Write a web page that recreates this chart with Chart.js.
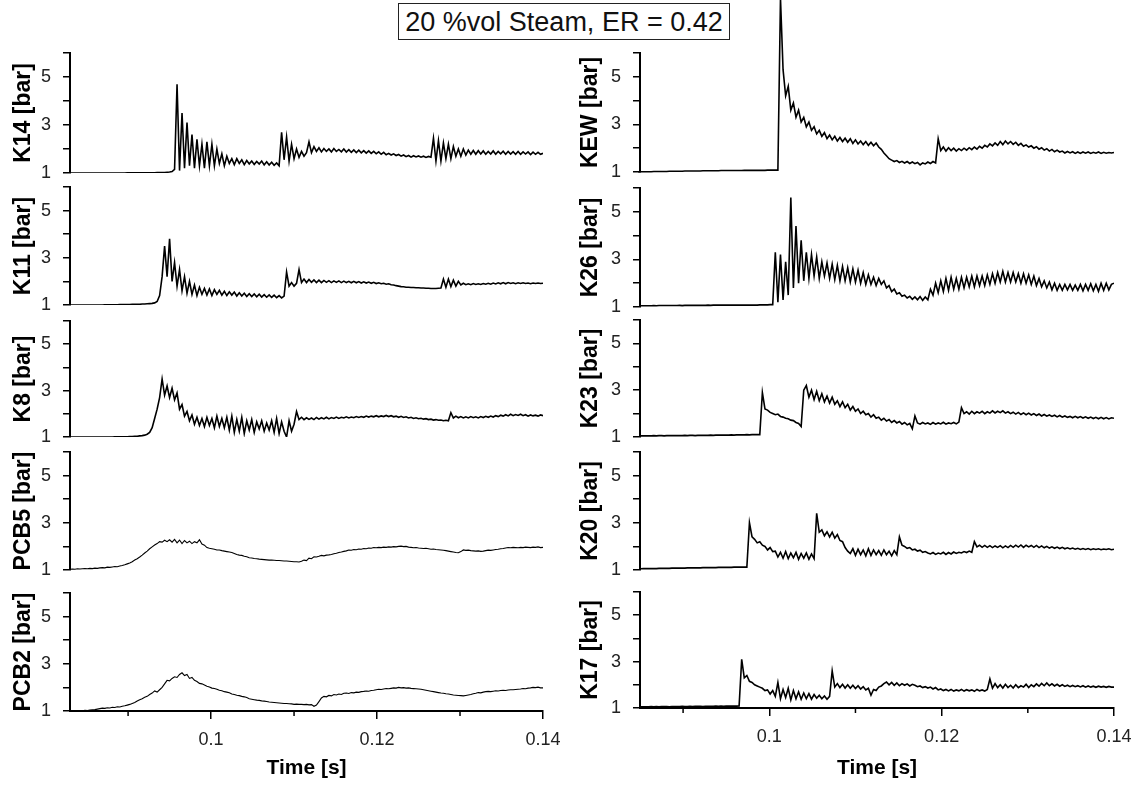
<!DOCTYPE html>
<html>
<head>
  <meta charset="utf-8">
  <title>Pressure traces, 20 %vol Steam</title>
  <script src="https://cdn.jsdelivr.net/npm/chart.js@4/dist/chart.umd.min.js"></script>
  <style>
    body { margin: 0; background: #fff; width: 1142px; height: 787px; position: relative; overflow: hidden; }
    canvas { position: absolute; }
    #title {
      position: absolute; left: 398px; top: 3px; width: 330px; height: 35px;
      border: 1.5px solid #222; box-sizing: content-box;
      font: 27px 'Liberation Sans', Arial, sans-serif; color: #111;
      text-align: center; line-height: 36px; white-space: nowrap;
    }
  </style>
</head>
<body>
  <div id="title">20 %vol Steam, ER = 0.42</div>
  <script>
    // sample times [s]
    var time = [
      0.0830,0.0833,0.0836,0.0839,0.0842,0.0845,0.0848,0.0851,0.0854,0.0857,
      0.0860,0.0863,0.0866,0.0869,0.0872,0.0875,0.0878,0.0881,0.0884,0.0887,
      0.0890,0.0893,0.0896,0.0899,0.0902,0.0905,0.0908,0.0911,0.0914,0.0917,
      0.0920,0.0923,0.0926,0.0929,0.0932,0.0935,0.0938,0.0941,0.0944,0.0947,
      0.0950,0.0953,0.0956,0.0959,0.0962,0.0965,0.0968,0.0971,0.0974,0.0977,
      0.0980,0.0983,0.0986,0.0989,0.0992,0.0995,0.0998,0.1001,0.1004,0.1007,
      0.1010,0.1013,0.1016,0.1019,0.1022,0.1025,0.1028,0.1031,0.1034,0.1037,
      0.1040,0.1043,0.1046,0.1049,0.1052,0.1055,0.1058,0.1061,0.1064,0.1067,
      0.1070,0.1073,0.1076,0.1079,0.1082,0.1085,0.1088,0.1091,0.1094,0.1097,
      0.1100,0.1103,0.1106,0.1109,0.1112,0.1115,0.1118,0.1121,0.1124,0.1127,
      0.1130,0.1133,0.1136,0.1139,0.1142,0.1145,0.1148,0.1151,0.1154,0.1157,
      0.1160,0.1163,0.1166,0.1169,0.1172,0.1175,0.1178,0.1181,0.1184,0.1187,
      0.1190,0.1193,0.1196,0.1199,0.1202,0.1205,0.1208,0.1211,0.1214,0.1217,
      0.1220,0.1223,0.1226,0.1229,0.1232,0.1235,0.1238,0.1241,0.1244,0.1247,
      0.1250,0.1253,0.1256,0.1259,0.1262,0.1265,0.1268,0.1271,0.1274,0.1277,
      0.1280,0.1283,0.1286,0.1289,0.1292,0.1295,0.1298,0.1301,0.1304,0.1307,
      0.1310,0.1313,0.1316,0.1319,0.1322,0.1325,0.1328,0.1331,0.1334,0.1337,
      0.1340,0.1343,0.1346,0.1349,0.1352,0.1355,0.1358,0.1361,0.1364,0.1367,
      0.1370,0.1373,0.1376,0.1379,0.1382,0.1385,0.1388,0.1391,0.1394,0.1397,
      0.1400
    ];

    // pressures [bar], one value per sample time
    var k14 = [
      1.00,1.00,1.00,1.00,1.00,1.00,1.00,1.00,1.00,1.00,
      1.00,1.00,1.00,1.00,1.00,1.00,1.00,1.00,1.00,1.00,
      1.00,1.00,1.00,1.01,1.01,1.01,1.01,1.01,1.01,1.01,
      1.01,1.01,1.01,1.01,1.01,1.02,1.02,1.02,1.02,1.03,
      1.04,1.06,1.15,4.70,1.10,3.50,1.20,3.10,1.30,2.60,
      1.20,2.40,1.30,2.20,1.20,2.30,1.30,2.20,1.30,2.00,
      1.40,1.80,1.30,1.70,1.40,1.60,1.35,1.60,1.40,1.55,
      1.35,1.52,1.38,1.50,1.36,1.48,1.37,1.50,1.34,1.47,
      1.33,1.45,1.32,1.42,1.30,2.70,1.55,2.50,1.50,2.20,
      1.60,2.00,1.65,1.90,1.70,1.85,2.30,1.85,2.10,1.90,
      2.05,1.88,2.02,1.90,2.00,1.88,2.02,1.90,1.98,1.88,
      2.00,1.87,1.97,1.86,1.96,1.85,1.95,1.84,1.93,1.83,
      1.92,1.82,1.90,1.80,1.88,1.78,1.86,1.76,1.82,1.75,
      1.80,1.73,1.77,1.70,1.75,1.68,1.73,1.66,1.72,1.67,
      1.71,1.66,1.70,1.65,1.69,1.66,2.45,1.50,2.35,1.50,
      2.25,1.60,2.20,1.60,2.10,1.70,2.00,1.70,2.00,1.75,
      1.95,1.78,1.94,1.78,1.93,1.79,1.92,1.78,1.90,1.79,
      1.92,1.78,1.90,1.80,1.91,1.78,1.90,1.79,1.89,1.78,
      1.90,1.78,1.88,1.79,1.88,1.77,1.87,1.78,1.86,1.78,
      1.82
    ];
    var k11 = [
      1.00,1.00,1.00,1.00,1.00,1.00,1.00,1.00,1.00,1.00,
      1.00,1.00,1.00,1.00,1.01,1.01,1.01,1.01,1.01,1.01,
      1.02,1.02,1.02,1.02,1.02,1.03,1.03,1.03,1.03,1.04,
      1.04,1.05,1.06,1.07,1.09,1.15,1.40,2.20,3.50,2.20,
      3.80,2.00,2.80,1.80,2.50,1.60,2.20,1.50,2.00,1.45,
      1.85,1.40,1.75,1.45,1.70,1.42,1.68,1.40,1.65,1.45,
      1.62,1.42,1.58,1.40,1.56,1.42,1.55,1.38,1.52,1.38,
      1.50,1.36,1.48,1.36,1.47,1.35,1.46,1.34,1.44,1.33,
      1.43,1.32,1.42,1.31,1.40,1.30,1.38,2.40,1.80,1.95,
      1.80,1.92,2.50,1.95,2.10,1.95,2.08,1.96,2.06,1.95,
      2.05,1.95,2.04,1.96,2.03,1.95,2.02,1.96,2.02,1.95,
      2.01,1.95,2.00,1.94,2.00,1.94,1.99,1.93,1.98,1.93,
      1.97,1.92,1.96,1.91,1.94,1.90,1.92,1.88,1.90,1.86,
      1.85,1.82,1.80,1.78,1.77,1.75,1.75,1.74,1.74,1.73,
      1.73,1.72,1.72,1.71,1.71,1.70,1.70,1.70,1.71,1.72,
      2.10,1.75,2.10,1.78,2.05,1.80,2.00,1.85,1.92,1.86,
      1.90,1.86,1.91,1.87,1.90,1.87,1.91,1.88,1.92,1.88,
      1.93,1.89,1.94,1.90,1.95,1.90,1.95,1.91,1.94,1.90,
      1.94,1.91,1.94,1.91,1.93,1.90,1.93,1.91,1.93,1.91,
      1.92
    ];
    var k8 = [
      1.00,1.00,1.00,1.00,1.00,1.00,1.00,1.00,1.00,1.00,
      1.00,1.00,1.00,1.00,1.00,1.00,1.00,1.00,1.01,1.01,
      1.01,1.01,1.01,1.01,1.02,1.02,1.03,1.03,1.05,1.06,
      1.08,1.12,1.20,1.40,1.80,2.20,2.70,3.50,2.80,3.20,
      2.70,3.10,2.60,2.90,2.20,2.40,1.90,2.10,1.70,1.95,
      1.55,1.85,1.50,1.80,1.45,1.85,1.50,1.80,1.40,1.90,
      1.45,1.80,1.40,1.85,1.30,1.90,1.20,1.75,1.25,1.85,
      1.15,1.70,1.30,1.75,1.20,1.65,1.35,1.70,1.25,1.60,
      1.30,1.70,1.20,1.80,1.15,1.65,1.25,1.00,1.70,1.25,
      1.55,2.10,1.75,1.85,1.75,1.83,1.76,1.82,1.75,1.84,
      1.77,1.83,1.78,1.85,1.78,1.84,1.80,1.86,1.80,1.85,
      1.82,1.87,1.82,1.86,1.83,1.88,1.84,1.88,1.85,1.90,
      1.86,1.90,1.87,1.92,1.87,1.91,1.88,1.93,1.88,1.92,
      1.87,1.90,1.85,1.89,1.84,1.87,1.82,1.85,1.80,1.83,
      1.79,1.81,1.77,1.79,1.75,1.77,1.73,1.75,1.72,1.73,
      1.70,1.72,1.70,2.05,1.82,1.90,1.83,1.88,1.82,1.87,
      1.82,1.88,1.83,1.87,1.82,1.88,1.84,1.89,1.85,1.90,
      1.86,1.92,1.88,1.94,1.90,1.96,1.91,1.98,1.92,1.97,
      1.93,1.98,1.92,1.96,1.90,1.95,1.91,1.94,1.90,1.95,
      1.92
    ];
    var pcb5 = [
      1.03,1.04,1.03,1.05,1.04,1.05,1.06,1.05,1.07,1.06,
      1.08,1.07,1.09,1.10,1.09,1.12,1.11,1.13,1.15,1.14,
      1.17,1.19,1.22,1.26,1.30,1.35,1.42,1.48,1.55,1.63,
      1.72,1.80,1.90,1.98,2.06,2.12,2.20,2.18,2.26,2.20,
      2.28,2.18,2.30,2.15,2.27,2.12,2.25,2.15,2.22,2.12,
      2.20,2.15,2.28,2.10,2.05,1.95,1.92,1.90,1.88,1.85,
      1.85,1.82,1.80,1.78,1.76,1.74,1.70,1.66,1.63,1.62,
      1.58,1.56,1.52,1.51,1.49,1.48,1.46,1.45,1.44,1.43,
      1.42,1.42,1.41,1.40,1.40,1.39,1.38,1.38,1.37,1.36,
      1.35,1.35,1.34,1.37,1.42,1.40,1.50,1.48,1.56,1.55,
      1.58,1.62,1.60,1.63,1.64,1.66,1.69,1.71,1.74,1.76,
      1.79,1.81,1.85,1.84,1.87,1.86,1.89,1.88,1.91,1.90,
      1.93,1.92,1.95,1.94,1.96,1.95,1.97,1.96,1.98,1.97,
      1.99,1.98,2.00,2.01,1.99,2.00,1.97,1.96,1.94,1.95,
      1.93,1.92,1.91,1.92,1.90,1.88,1.89,1.87,1.86,1.85,
      1.84,1.82,1.80,1.78,1.76,1.74,1.73,1.78,1.85,1.83,
      1.84,1.82,1.81,1.80,1.81,1.79,1.80,1.82,1.84,1.83,
      1.85,1.87,1.88,1.90,1.91,1.93,1.95,1.94,1.96,1.95,
      1.94,1.96,1.95,1.97,1.96,1.95,1.97,1.96,1.98,1.95,
      1.96
    ];
    var pcb2 = [
      1.00,1.00,1.01,1.00,1.02,1.01,1.03,1.02,1.04,1.05,
      1.06,1.08,1.10,1.12,1.11,1.14,1.13,1.16,1.15,1.18,
      1.17,1.20,1.22,1.25,1.28,1.32,1.36,1.42,1.48,1.52,
      1.58,1.62,1.70,1.76,1.85,1.80,1.90,2.00,2.15,2.30,
      2.28,2.38,2.45,2.42,2.55,2.62,2.50,2.55,2.38,2.42,
      2.30,2.25,2.17,2.15,2.10,2.05,2.02,1.97,1.95,1.92,
      1.88,1.86,1.82,1.80,1.77,1.72,1.70,1.67,1.65,1.62,
      1.60,1.57,1.52,1.50,1.48,1.46,1.45,1.43,1.42,1.40,
      1.38,1.37,1.36,1.35,1.34,1.33,1.32,1.32,1.31,1.30,
      1.28,1.29,1.28,1.28,1.27,1.28,1.26,1.27,1.20,1.25,
      1.40,1.55,1.62,1.60,1.66,1.64,1.70,1.68,1.72,1.70,
      1.75,1.76,1.74,1.78,1.77,1.80,1.79,1.82,1.83,1.85,
      1.84,1.87,1.88,1.90,1.92,1.91,1.93,1.95,1.94,1.96,
      1.98,1.97,2.00,1.98,1.99,1.97,1.98,1.96,1.95,1.94,
      1.93,1.92,1.90,1.88,1.86,1.84,1.82,1.80,1.78,1.76,
      1.75,1.73,1.72,1.70,1.68,1.67,1.66,1.65,1.64,1.66,
      1.68,1.70,1.73,1.75,1.78,1.77,1.80,1.82,1.83,1.82,
      1.84,1.86,1.85,1.87,1.88,1.87,1.89,1.90,1.90,1.91,
      1.92,1.93,1.95,1.94,1.97,1.98,2.00,1.99,2.01,1.98,
      1.98
    ];
    var kew = [
      1.00,1.00,1.00,1.00,1.00,1.00,1.00,1.01,1.01,1.01,
      1.01,1.01,1.02,1.02,1.02,1.02,1.02,1.02,1.03,1.03,
      1.03,1.03,1.03,1.03,1.04,1.04,1.04,1.04,1.04,1.04,
      1.04,1.05,1.05,1.05,1.05,1.05,1.05,1.05,1.06,1.06,
      1.06,1.06,1.06,1.06,1.06,1.06,1.06,1.07,1.07,1.07,
      1.07,1.07,1.07,1.07,1.07,1.07,1.08,1.08,1.08,1.08,
      1.08,8.30,5.30,4.20,4.60,3.60,3.90,3.30,3.60,3.10,
      3.30,2.90,3.10,2.75,2.90,2.60,2.75,2.50,2.65,2.40,
      2.55,2.35,2.50,2.30,2.45,2.28,2.42,2.25,2.40,2.20,
      2.35,2.18,2.30,2.15,2.28,2.12,2.25,2.10,2.22,2.05,
      1.95,1.80,1.68,1.56,1.50,1.44,1.48,1.40,1.45,1.38,
      1.44,1.36,1.42,1.35,1.40,1.30,1.38,1.34,1.42,1.36,
      1.44,1.38,2.40,1.90,2.05,1.88,2.02,1.90,2.00,1.88,
      1.98,1.90,2.00,1.92,2.02,1.94,2.05,1.96,2.08,2.00,
      2.12,2.05,2.18,2.10,2.22,2.12,2.28,2.15,2.30,2.18,
      2.28,2.16,2.25,2.12,2.20,2.08,2.14,2.05,2.10,2.00,
      2.06,1.96,2.02,1.92,1.98,1.88,1.95,1.85,1.92,1.84,
      1.88,1.80,1.86,1.80,1.85,1.78,1.84,1.78,1.84,1.79,
      1.84,1.78,1.83,1.79,1.84,1.78,1.83,1.79,1.82,1.80,
      1.82
    ];
    var k26 = [
      1.05,1.05,1.05,1.05,1.05,1.05,1.05,1.05,1.05,1.05,
      1.05,1.05,1.06,1.05,1.06,1.06,1.06,1.06,1.06,1.06,
      1.06,1.06,1.07,1.06,1.07,1.07,1.07,1.07,1.07,1.07,
      1.07,1.07,1.07,1.08,1.07,1.08,1.08,1.08,1.08,1.08,
      1.08,1.08,1.08,1.08,1.08,1.08,1.08,1.08,1.08,1.08,
      1.08,1.08,1.08,1.09,1.09,1.09,1.09,1.10,1.10,3.30,
      1.20,3.20,1.30,2.90,1.50,5.60,1.80,4.40,2.00,3.80,
      2.10,3.30,2.20,3.20,2.30,3.10,2.20,2.90,2.30,2.85,
      2.20,2.80,2.15,2.75,2.10,2.70,2.10,2.65,2.05,2.60,
      2.05,2.55,2.00,2.45,1.95,2.35,1.95,2.25,1.90,2.20,
      1.95,2.10,1.80,1.90,1.65,1.75,1.55,1.60,1.45,1.50,
      1.38,1.45,1.32,1.42,1.30,1.44,1.28,1.42,1.30,1.75,
      1.50,2.00,1.60,2.10,1.65,2.20,1.70,2.25,1.75,2.20,
      1.75,2.25,1.80,2.25,1.85,2.30,1.85,2.30,1.90,2.30,
      1.90,2.35,1.95,2.40,2.00,2.45,2.05,2.50,2.05,2.45,
      2.05,2.45,2.05,2.40,2.00,2.40,2.00,2.35,1.95,2.30,
      1.90,2.20,1.85,2.10,1.80,2.05,1.72,2.00,1.70,1.95,
      1.70,1.95,1.72,1.95,1.70,1.92,1.70,1.95,1.68,1.95,
      1.70,1.98,1.68,1.95,1.66,2.00,1.70,2.00,1.72,1.95,
      2.00
    ];
    var k23 = [
      1.05,1.05,1.05,1.05,1.05,1.05,1.05,1.05,1.05,1.05,
      1.05,1.05,1.06,1.05,1.06,1.06,1.05,1.06,1.06,1.06,
      1.06,1.06,1.06,1.06,1.07,1.06,1.07,1.07,1.06,1.07,
      1.07,1.07,1.07,1.07,1.08,1.07,1.08,1.08,1.08,1.08,
      1.08,1.08,1.09,1.08,1.09,1.09,1.09,1.09,1.10,1.09,
      1.10,1.10,1.10,1.10,2.90,2.20,2.15,2.05,2.00,1.95,
      1.98,1.88,1.85,1.80,1.78,1.72,1.70,1.62,1.58,1.45,
      3.00,3.20,2.70,3.00,2.60,2.95,2.55,2.85,2.50,2.75,
      2.45,2.70,2.40,2.55,2.30,2.50,2.25,2.40,2.15,2.30,
      2.10,2.20,2.00,2.10,1.95,2.00,1.85,1.95,1.80,1.85,
      1.72,1.80,1.68,1.75,1.62,1.70,1.60,1.66,1.55,1.62,
      1.52,1.58,1.35,1.90,1.60,1.55,1.62,1.56,1.60,1.54,
      1.62,1.55,1.60,1.56,1.63,1.55,1.60,1.57,1.62,1.56,
      1.64,2.25,2.00,2.08,1.98,2.10,2.00,2.08,2.02,2.10,
      2.00,2.08,2.02,2.12,2.03,2.10,2.04,2.12,2.02,2.08,
      2.00,2.06,1.98,2.05,1.96,2.03,1.95,2.02,1.94,2.00,
      1.92,1.98,1.90,1.96,1.89,1.94,1.88,1.93,1.86,1.92,
      1.85,1.90,1.84,1.88,1.82,1.88,1.82,1.87,1.81,1.86,
      1.80,1.85,1.79,1.84,1.78,1.84,1.78,1.83,1.77,1.82,
      1.80
    ];
    var k20 = [
      1.05,1.05,1.05,1.05,1.05,1.05,1.05,1.05,1.06,1.06,
      1.06,1.06,1.06,1.06,1.07,1.07,1.07,1.07,1.07,1.08,
      1.08,1.08,1.08,1.08,1.08,1.09,1.09,1.09,1.09,1.09,
      1.09,1.10,1.10,1.10,1.10,1.10,1.10,1.11,1.11,1.11,
      1.11,1.11,1.11,1.12,1.12,1.12,1.12,1.12,1.12,3.00,
      2.40,2.30,2.15,2.20,2.05,2.00,1.85,1.95,1.78,1.80,
      1.55,1.75,1.50,1.78,1.48,1.72,1.52,1.75,1.45,1.70,
      1.50,1.72,1.45,1.68,1.48,3.40,2.60,2.70,2.45,2.62,
      2.40,2.60,2.35,2.50,2.25,2.20,1.95,1.80,1.70,1.90,
      1.62,1.88,1.65,1.85,1.60,1.90,1.62,1.85,1.65,1.82,
      1.62,1.85,1.65,1.80,1.60,1.82,1.65,2.40,2.05,2.00,
      1.92,1.95,1.85,1.88,1.80,1.84,1.75,1.78,1.72,1.68,
      1.74,1.66,1.72,1.68,1.75,1.66,1.74,1.68,1.76,1.70,
      1.75,1.72,1.78,1.74,1.80,1.75,2.20,1.98,2.05,1.96,
      2.04,1.96,2.03,1.95,2.02,1.96,2.03,1.94,2.02,1.95,
      2.04,1.96,2.05,1.97,2.06,1.96,2.05,1.98,2.04,1.96,
      2.04,1.95,2.02,1.94,2.00,1.93,1.98,1.92,1.97,1.91,
      1.96,1.90,1.94,1.89,1.93,1.88,1.92,1.87,1.91,1.87,
      1.91,1.86,1.90,1.87,1.90,1.86,1.89,1.87,1.90,1.86,
      1.88
    ];
    var k17 = [
      1.05,1.05,1.05,1.05,1.05,1.05,1.05,1.05,1.05,1.05,
      1.05,1.06,1.05,1.06,1.05,1.06,1.06,1.06,1.05,1.06,
      1.06,1.06,1.06,1.07,1.06,1.06,1.07,1.06,1.07,1.07,
      1.07,1.06,1.07,1.07,1.07,1.07,1.08,1.07,1.08,1.07,
      1.08,1.08,1.08,1.08,1.08,1.09,3.10,2.30,2.40,2.15,
      2.10,2.00,1.95,1.90,1.85,1.75,1.78,1.60,1.75,1.50,
      2.10,1.40,1.80,1.45,1.85,1.35,1.75,1.40,1.70,1.38,
      1.65,1.40,1.62,1.38,1.58,1.42,1.55,1.40,1.52,1.38,
      1.50,2.60,1.90,2.05,1.88,2.02,1.86,2.00,1.85,1.98,
      1.84,1.96,1.82,1.92,1.78,1.85,1.55,1.80,1.75,1.90,
      1.95,2.05,2.12,2.00,2.10,1.98,2.08,1.96,2.05,1.98,
      2.04,1.95,2.02,1.98,1.92,1.95,1.88,1.92,1.86,1.90,
      1.82,1.88,1.78,1.82,1.75,1.80,1.74,1.80,1.73,1.78,
      1.74,1.80,1.73,1.79,1.74,1.78,1.72,1.80,1.74,1.78,
      1.73,1.80,2.25,1.85,2.05,1.88,2.00,1.86,2.02,1.88,
      1.98,1.86,2.00,1.88,1.96,1.90,2.02,1.88,2.00,1.92,
      2.04,1.94,2.06,1.96,2.08,1.96,2.04,1.95,2.02,1.94,
      2.00,1.93,1.98,1.92,1.97,1.92,1.96,1.91,1.96,1.90,
      1.95,1.90,1.94,1.89,1.94,1.90,1.93,1.89,1.93,1.90,
      1.90
    ];

    // axis ticks
    var yTickValues = [1, 2, 3, 4, 5, 6];
    var yTickLabels = ['1', '', '3', '', '5', ''];
    var xMajorTicks = [0.1, 0.12, 0.14];
    var xMajorLabels = ['0.1', '0.12', '0.14'];
    var xMinorTicks = [0.09, 0.11, 0.13];

    var FONT = "'Liberation Sans', Arial, Helvetica, sans-serif";
    Chart.defaults.font.family = FONT;

    // layout of the two columns and ten panels (page pixels)
    var columns = [
      { left: 0, width: 600, padRight: 57, xMin: 0.083, titlePad: 10 },
      { left: 570, width: 572, padRight: 28, xMin: 0.085, titlePad: 7 }
    ];
    var panels = [
      { name: 'K14', values: k14, col: 0, top: 53, bottom: 173 },
      { name: 'K11', values: k11, col: 0, top: 187, bottom: 305 },
      { name: 'K8', values: k8, col: 0, top: 321, bottom: 437 },
      { name: 'PCB5', values: pcb5, col: 0, top: 452, bottom: 570, thin: true },
      { name: 'PCB2', values: pcb2, col: 0, top: 593, bottom: 711, thin: true, last: true },
      { name: 'KEW', values: kew, col: 1, top: 53, bottom: 172, noClip: true },
      { name: 'K26', values: k26, col: 1, top: 188, bottom: 307 },
      { name: 'K23', values: k23, col: 1, top: 320, bottom: 437 },
      { name: 'K20', values: k20, col: 1, top: 452, bottom: 570 },
      { name: 'K17', values: k17, col: 1, top: 592, bottom: 708, last: true }
    ];

    // shorter minor ticks on the time axis
    var minorTicks = {
      id: 'minorTicks',
      afterDraw: function (chart) {
        var xs = chart.scales.x;
        if (!xs.options.display) return;
        var ctx = chart.ctx;
        ctx.save();
        ctx.strokeStyle = '#000';
        ctx.lineWidth = 1.5;
        xMinorTicks.forEach(function (v) {
          var px = xs.getPixelForValue(v);
          ctx.beginPath();
          ctx.moveTo(px, xs.top);
          ctx.lineTo(px, xs.top + 5);
          ctx.stroke();
        });
        ctx.restore();
      }
    };

    function makePanel(p) {
      var col = columns[p.col];
      var padTop = p.noClip ? p.top : 12;
      var cTop = p.top - padTop;
      var cHeight = p.last ? 787 - cTop : p.bottom + 12 - cTop;
      var canvas = document.createElement('canvas');
      canvas.width = col.width;
      canvas.height = cHeight;
      canvas.style.left = col.left + 'px';
      canvas.style.top = cTop + 'px';
      document.body.appendChild(canvas);

      var points = time.map(function (t, i) { return { x: t, y: p.values[i] }; });

      var xScale = { type: 'linear', min: col.xMin, max: 0.14, display: false };
      if (p.last) {
        xScale = {
          type: 'linear', min: col.xMin, max: 0.14, display: true,
          afterBuildTicks: function (s) { s.ticks = xMajorTicks.map(function (v) { return { value: v }; }); },
          afterFit: function (s) {
            s.height = 787 - p.bottom;
            s.paddingLeft = 0; s.paddingRight = 0;
          },
          ticks: {
            autoSkip: false, maxRotation: 0, color: '#222', padding: 10,
            font: { size: 18 },
            callback: function (v) { var i = xMajorTicks.indexOf(v); return i < 0 ? '' : xMajorLabels[i]; }
          },
          grid: { drawOnChartArea: false, tickLength: 8, color: '#000', lineWidth: 1.5 },
          border: { display: true, color: '#000', width: 2 },
          title: {
            display: true, text: 'Time [s]', color: '#000',
            font: { size: 21, weight: 'bold' }, padding: { top: 0, bottom: 6 }
          }
        };
      }

      new Chart(canvas, {
        type: 'line',
        data: {
          datasets: [{
            data: points,
            borderColor: '#000',
            borderWidth: p.thin ? 1.1 : 1.6,
            pointRadius: 0,
            tension: 0,
            clip: p.noClip ? false : undefined
          }]
        },
        options: {
          responsive: false,
          animation: false,
          devicePixelRatio: 1,
          layout: { padding: { left: 0, right: col.padRight, top: padTop, bottom: p.last ? 0 : 12 } },
          plugins: { legend: { display: false }, tooltip: { enabled: false } },
          scales: {
            x: xScale,
            y: {
              min: 1, max: 6,
              afterFit: function (s) {
                s.width = 70;
                s.paddingTop = 0; s.paddingBottom = 0;
              },
              afterBuildTicks: function (s) { s.ticks = yTickValues.map(function (v) { return { value: v }; }); },
              ticks: {
                autoSkip: false, color: '#222', padding: 12,
                font: { size: 18 },
                callback: function (v) { var i = yTickValues.indexOf(v); return i < 0 ? '' : yTickLabels[i]; }
              },
              grid: { drawOnChartArea: false, tickLength: 7, color: '#000', lineWidth: 1.5 },
              border: { display: true, color: '#000', width: 2 },
              title: {
                display: true, text: p.name + ' [bar]', color: '#000',
                font: { size: 23, weight: 'bold' }, padding: { top: col.titlePad, bottom: 0 }
              }
            }
          }
        },
        plugins: [minorTicks]
      });
    }

    panels.forEach(makePanel);
  </script>
</body>
</html>
